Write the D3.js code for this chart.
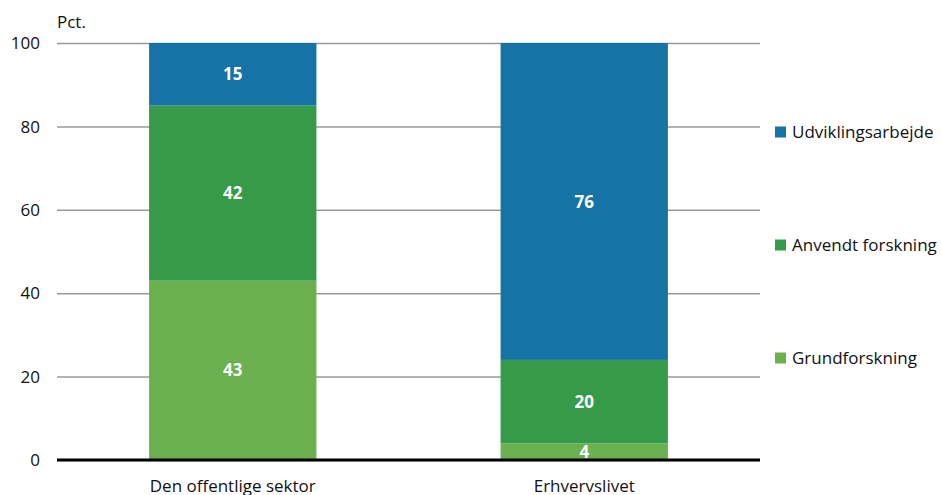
<!DOCTYPE html>
<html>
<head>
<meta charset="utf-8">
<script src="https://cdn.jsdelivr.net/npm/d3@7"></script>
<style>
  html, body { margin: 0; padding: 0; background: #fff; }
  svg text { font-family: "Open Sans", "Noto Sans", sans-serif; }
</style>
</head>
<body>
<svg id="chart" width="941" height="495"></svg>
<script>
// Sectors along the x axis
const categories = ["Den offentlige sektor", "Erhvervslivet"];
// Stack order, bottom to top
const seriesNames = ["Grundforskning", "Anvendt forskning", "Udviklingsarbejde"];
const grundforskning = [43, 4];
const anvendtForskning = [42, 20];
const udviklingsarbejde = [15, 76];
const yTicks = [0, 20, 40, 60, 80, 100];
const colors = ["#6ab04f", "#359b49", "#1574a5"];

const svg = d3.select("#chart");
const plot = { left: 57, right: 760, top: 43, bottom: 460 };

const rows = categories.map((c, i) => ({
  category: c,
  "Grundforskning": grundforskning[i],
  "Anvendt forskning": anvendtForskning[i],
  "Udviklingsarbejde": udviklingsarbejde[i]
}));

const x = d3.scaleBand().domain(categories).range([plot.left, plot.right])
  .paddingInner(0.524).paddingOuter(0.262);
const y = d3.scaleLinear().domain([0, 100]).range([plot.bottom, plot.top]);
const color = d3.scaleOrdinal().domain(seriesNames).range(colors);

// Horizontal gridlines with tick labels
const yAxis = svg.append("g")
  .attr("transform", `translate(${plot.left},0)`)
  .call(d3.axisLeft(y).tickValues(yTicks).tickSize(-(plot.right - plot.left)).tickPadding(17));
yAxis.select(".domain").remove();
yAxis.selectAll(".tick line").attr("stroke", "#9a9a9a").attr("stroke-width", 1.5);
yAxis.selectAll(".tick text")
  .attr("font-size", 17).attr("fill", "#111").attr("dy", "0.34em");

svg.append("text").attr("x", 57).attr("y", 28)
  .attr("font-size", 17).attr("fill", "#111").text("Pct.");

// Stacked bars
const stack = d3.stack().keys(seriesNames)(rows);
const layers = svg.append("g").selectAll("g").data(stack).join("g")
  .attr("fill", d => color(d.key));
layers.selectAll("rect").data(d => d).join("rect")
  .attr("x", d => x(d.data.category))
  .attr("width", x.bandwidth())
  .attr("y", d => y(d[1]))
  .attr("height", d => y(d[0]) - y(d[1]));

// Value labels
layers.selectAll("text").data(d => d.map(v => ({ v, key: d.key }))).join("text")
  .attr("x", d => x(d.v.data.category) + x.bandwidth() / 2)
  .attr("y", d => (y(d.v[0]) + y(d.v[1])) / 2)
  .attr("dy", "0.36em")
  .attr("text-anchor", "middle")
  .attr("fill", "#fff")
  .attr("font-weight", "bold")
  .attr("font-size", 17)
  .text(d => d.v.data[d.key]);

// Baseline
svg.append("line").attr("x1", plot.left).attr("x2", plot.right)
  .attr("y1", y(0)).attr("y2", y(0))
  .attr("stroke", "#000").attr("stroke-width", 3);

// Category labels
const xAxis = svg.append("g")
  .attr("transform", `translate(0,${plot.bottom})`)
  .call(d3.axisBottom(x).tickSize(0).tickPadding(20));
xAxis.select(".domain").remove();
xAxis.selectAll(".tick text").attr("font-size", 17).attr("fill", "#111");

// Legend, top to bottom
const legendY = [132, 245, 358];
const legendKeys = seriesNames.slice().reverse();
const legend = svg.append("g").selectAll("g").data(legendKeys).join("g")
  .attr("transform", (d, i) => `translate(775,${legendY[i]})`);
legend.append("rect").attr("x", 0).attr("y", -5.5).attr("width", 11).attr("height", 11)
  .attr("fill", d => color(d));
legend.append("text").attr("x", 17).attr("dy", "0.36em")
  .attr("font-size", 17).attr("fill", "#111").text(d => d);
</script>
</body>
</html>
